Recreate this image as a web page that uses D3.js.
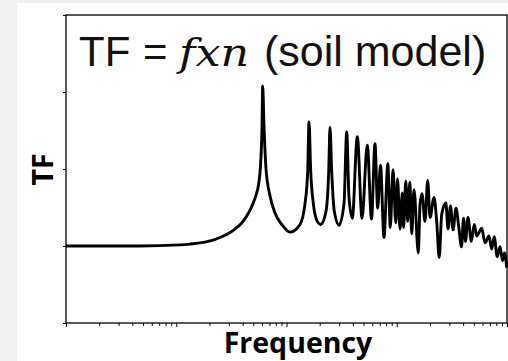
<!DOCTYPE html>
<html>
<head>
<meta charset="utf-8">
<script src="https://cdn.jsdelivr.net/npm/d3@7"></script>
<style>
  html, body { margin: 0; padding: 0; background: #f0f0f0; }
  svg { display: block; }
</style>
</head>
<body>
<svg width="508" height="361"></svg>
<script>
// frequency (Hz, log axis) and transfer function amplitude
const freq = [
  0.01, 0.0203, 0.0469, 0.108, 0.133, 0.164, 0.207, 0.249, 0.295, 0.341,
  0.387, 0.436, 0.472, 0.500, 0.529, 0.555, 0.583, 0.600, 0.608, 0.625,
  0.652, 0.709, 0.786, 0.905, 1.076,
  1.326, 1.472, 1.557, 1.600, 1.658, 1.751, 1.903, 2.043, 2.282, 2.415,
  2.481, 2.570, 2.714, 2.994, 3.323, 3.516, 3.689, 3.952, 4.388, 4.840,
  5.406, 5.902, 6.347, 6.716, 7.121, 7.662, 8.295, 8.739, 9.247, 9.804,
  10.16, 10.70, 11.23, 11.54, 12.08, 12.57, 13.14, 13.67, 14.34, 15.69,
  16.26, 16.94, 18.04, 19.09, 20.03, 21.77, 23.03, 24.27, 25.57, 27.86,
  29.18, 30.73, 32.38, 34.47, 36.70, 38.66, 40.31, 42.03, 44.29, 47.46,
  50.51, 53.11, 58.96, 63.18, 68.66, 72.65, 76.54, 81.52, 86.42, 91.03,
  94.91, 99.4
];
const tf = [
  1.00, 1.00, 1.00, 1.015, 1.025, 1.04, 1.07, 1.11, 1.16, 1.22,
  1.29, 1.39, 1.48, 1.56, 1.66, 1.78, 2.08, 2.56, 3.08, 2.56,
  2.00, 1.65, 1.43, 1.28, 1.18,
  1.28, 1.55, 1.97, 2.61, 1.97, 1.55, 1.32, 1.28, 1.45, 1.97,
  2.54, 1.97, 1.45, 1.27, 1.55, 2.48, 1.63, 1.36, 2.42, 1.36,
  2.31, 1.35, 2.33, 1.49, 2.05, 1.11, 2.07, 1.24, 1.99, 1.30,
  1.87, 1.22, 1.69, 1.24, 1.84, 1.32, 1.83, 1.16, 1.73, 0.91,
  1.54, 1.68, 1.32, 1.85, 1.37, 1.63, 1.32, 0.85, 1.41, 1.56,
  1.22, 1.52, 1.21, 1.49, 1.22, 0.99, 1.36, 1.06, 1.37, 1.06,
  1.28, 1.13, 1.23, 1.04, 1.13, 0.96, 1.12, 0.86, 0.99, 0.81,
  0.91, 0.72
];
const xDomain = [0.01, 100];
const yDomain = [0, 4];
const yTicks = [0, 1, 2, 3, 4];

let svg = d3.select("svg"),
    margin = {left: 66, top: 15, right: 1, bottom: 38},
    W = +svg.attr("width"),
    H = +svg.attr("height");

// white page area over the grey surround
svg.append("rect")
    .attr("x", 17).attr("y", 3)
    .attr("width", W - 17).attr("height", H - 3)
    .attr("fill", "#fff");

let x = d3.scaleLog().domain(xDomain).range([margin.left, W - margin.right]);
let y = d3.scaleLinear().domain(yDomain).range([H - margin.bottom, margin.top]);

// y axis ticks (no labels)
svg.append("g")
    .attr("transform", `translate(${margin.left},0)`)
    .call(d3.axisLeft(y).tickValues(yTicks).tickSize(3).tickFormat("").tickSizeOuter(0))
    .call(g => g.select(".domain").remove())
    .call(g => g.selectAll("line").attr("stroke", "#000").attr("stroke-width", 1));

// x axis: log ticks, majors slightly longer
svg.append("g")
    .attr("transform", `translate(0,${y(0)})`)
    .call(d3.axisBottom(x).tickFormat("").tickSizeOuter(0))
    .call(g => g.select(".domain").remove())
    .call(g => g.selectAll(".tick line")
        .attr("stroke", "#000")
        .attr("stroke-width", 1)
        .attr("y2", d => Math.abs(Math.log10(d) - Math.round(Math.log10(d))) < 1e-6 ? 4 : 3));

// frame
svg.append("rect")
    .attr("x", x.range()[0]).attr("y", y(4))
    .attr("width", x.range()[1] - x.range()[0])
    .attr("height", y(0) - y(4))
    .attr("fill", "none")
    .attr("stroke", "#000")
    .attr("stroke-width", 1.3);

// the curve
let line = d3.line()
    .x((d, i) => x(freq[i]))
    .y(d => y(d))
    .curve(d3.curveMonotoneX);

svg.append("path")
    .datum(tf)
    .attr("d", line)
    .attr("fill", "none")
    .attr("stroke", "#000")
    .attr("stroke-width", 2.9)
    .attr("stroke-linejoin", "round");

// title inside plot
let title = svg.append("g").attr("fill", "#111");
title.append("text")
    .attr("x", 79).attr("y", 66)
    .attr("font-family", "Liberation Sans, Arial, sans-serif")
    .attr("font-size", 42)
    .text("TF");
title.append("text")
    .attr("x", 143).attr("y", 66)
    .attr("font-family", "Liberation Sans, Arial, sans-serif")
    .attr("font-size", 42)
    .text("=");
title.append("text")
    .attr("x", 179).attr("y", 66)
    .attr("font-family", "DejaVu Serif, serif")
    .attr("font-style", "italic")
    .attr("font-size", 39)
    .attr("textLength", 70)
    .attr("lengthAdjust", "spacingAndGlyphs")
    .text("fxn");
title.append("text")
    .attr("x", 264).attr("y", 66)
    .attr("font-family", "Liberation Sans, Arial, sans-serif")
    .attr("font-size", 43)
    .text("(soil model)");

// axis titles
svg.append("text")
    .attr("transform", "translate(53,169.5) rotate(-90)")
    .attr("text-anchor", "middle")
    .attr("font-family", "Open Sans, sans-serif")
    .attr("font-weight", "bold")
    .attr("font-size", 28.5)
    .text("TF");

svg.append("text")
    .attr("x", 298).attr("y", 353)
    .attr("text-anchor", "middle")
    .attr("font-family", "Open Sans, sans-serif")
    .attr("font-weight", "bold")
    .attr("font-size", 28.5)
    .text("Frequency");
</script>
</body>
</html>
